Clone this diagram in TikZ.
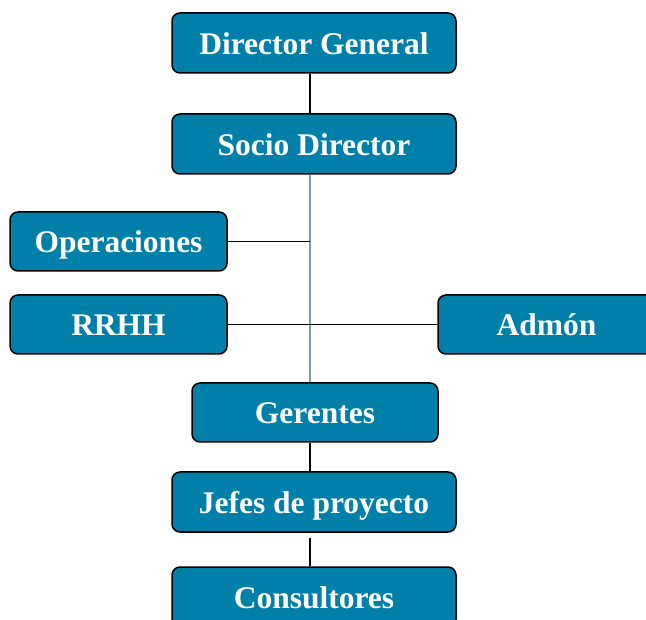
\documentclass[tikz,border=0pt]{standalone}
\usepackage{fontspec}
\setmainfont{Liberation Serif}
\usetikzlibrary{calc}
\definecolor{boxfill}{RGB}{0,128,168}
\definecolor{spinegrey}{RGB}{128,150,170}
\begin{document}
\begin{tikzpicture}[x=1pt,y=-1pt,
  orgbox/.style={draw=black, line width=1.5pt, fill=boxfill, rounded corners=8pt,
    text=white, font=\fontsize{31.5}{36}\selectfont\bfseries,
    inner sep=0pt, text height=23pt, text depth=0pt,
    minimum height=60pt, anchor=center},
  link/.style={draw=black, line width=1.5pt}]
\useasboundingbox (0,0) rectangle (646,620);
\clip (0,0) rectangle (646,620);
\coordinate (spine) at (310,0);
\node[orgbox, minimum width=284pt] (dg) at (314,43) {Director General};
\node[orgbox, minimum width=284pt] (sd) at (314,144) {Socio Director};
\node[orgbox, minimum width=217pt, minimum height=59pt] (op) at (118.5,241.5) {Operaciones};
\node[orgbox, minimum width=217pt, minimum height=59pt] (rr) at (118.5,324.5) {RRHH};
\node[orgbox, minimum width=217pt, minimum height=59pt] (ad) at (546.5,324.5) {Admón};
\node[orgbox, minimum width=246pt, minimum height=59pt] (ge) at (315,412.5) {Gerentes};
\node[orgbox, minimum width=284pt] (jp) at (314,502) {Jefes de proyecto};
\node[orgbox, minimum width=284pt] (co) at (314,597) {Consultores};
\draw[link] (dg.south -| spine) -- (sd.north -| spine);
\draw[draw=spinegrey, line width=1.5pt] (sd.south -| spine) -- (ge.north -| spine);
\draw[link] (op.east) -- (op.east -| spine);
\draw[link] (rr.east) -- (ad.west);
\draw[link] (ge.south -| spine) -- (jp.north -| spine);
\draw[link] ($(jp.south -| spine)+(0,5)$) -- (co.north -| spine);
\end{tikzpicture}
\end{document}
